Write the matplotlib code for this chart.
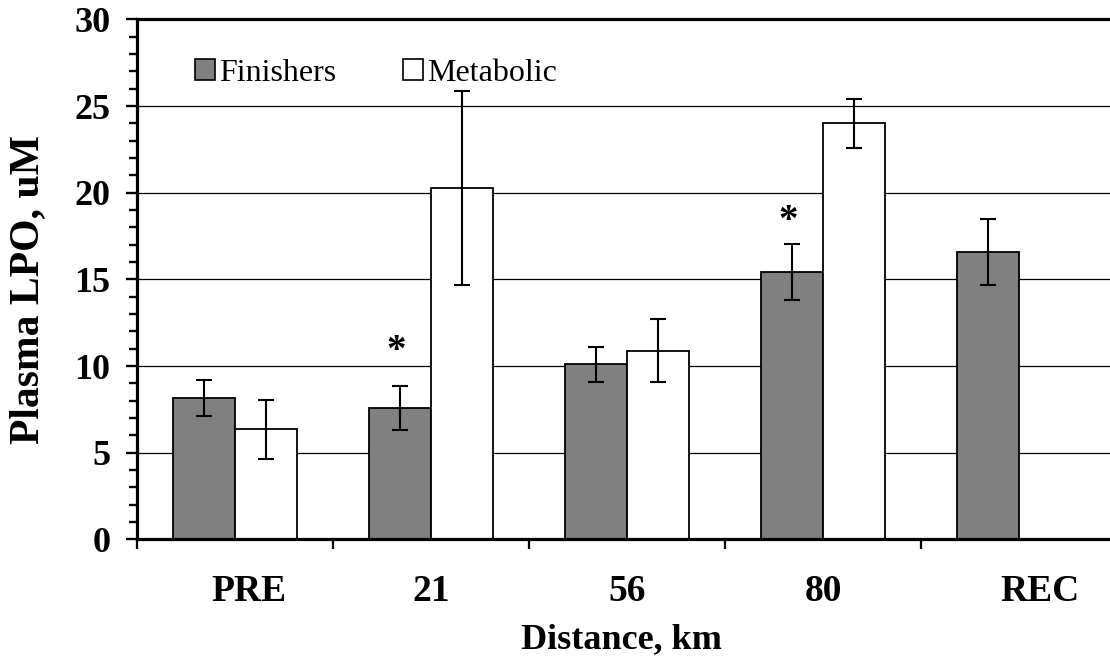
import numpy as np
import matplotlib
matplotlib.use('Agg')
import matplotlib.pyplot as plt
import matplotlib.transforms as mtransforms
from matplotlib.ticker import MultipleLocator
from matplotlib.patches import Patch

# valores (uM)
categorias = ['PRE', '21', '56', '80', 'REC']
finishers = [8.15, 7.57, 10.1, 15.44, 16.58]
finishers_err = [1.05, 1.27, 1.03, 1.63, 1.9]
metabolic = [6.35, 20.3, 10.9, 24.0, np.nan]
metabolic_err = [1.72, 5.6, 1.82, 1.4, np.nan]
signif = ['21', '80']  # pontos com asterisco
signif_y = [10.3, 17.8]

plt.rcParams['font.family'] = ['Liberation Serif', 'DejaVu Serif']

fig = plt.figure(figsize=(11.1, 6.56), dpi=100)
ax = fig.add_axes([0.1234, 0.1776, 0.8829, 0.7927])

x = np.arange(len(categorias)) + 0.5
larg = 0.316

fin = np.array(finishers)
met = np.array(metabolic)
ok = ~np.isnan(met)

ax.bar(x - larg / 2, fin, larg, color='#808080', edgecolor='black', linewidth=1.3, zorder=2)
ax.bar(x[ok] + larg / 2, met[ok], larg, color='white', edgecolor='black', linewidth=1.3, zorder=2)
ax.errorbar(x - larg / 2, fin, yerr=finishers_err, fmt='none', ecolor='black',
            elinewidth=1.5, capsize=5.5, capthick=1.5, zorder=3)
ax.errorbar(x[ok] + larg / 2, met[ok], yerr=np.array(metabolic_err)[ok], fmt='none',
            ecolor='black', elinewidth=1.5, capsize=5.5, capthick=1.5, zorder=3)

for cat, yv in zip(signif, signif_y):
    i = categorias.index(cat)
    ax.text(x[i] - larg / 2 - 0.02, yv, '*', ha='center', va='baseline',
            fontsize=28, fontweight='bold')

ax.set_xlim(0, 5)
ax.set_ylim(0, 30)
ax.set_axisbelow(True)
ax.yaxis.grid(True, color='black', linewidth=0.9)

ax.set_xticks(np.arange(0, 6))
ax.set_xticklabels([])
ax.set_xticks(x, minor=True)
ax.set_xticklabels(categorias, minor=True, fontsize=27, fontweight='bold')
ax.tick_params(axis='x', which='major', direction='out', length=7, width=1.6)
ax.tick_params(axis='x', which='minor', length=0, pad=25)

# no original PRE e REC ficam um pouco deslocados para a direita
desloc = {'PRE': 14, 'REC': 21}
for lab in ax.get_xticklabels(minor=True):
    dx = desloc.get(lab.get_text(), 0)
    if dx:
        lab.set_transform(lab.get_transform() +
                          mtransforms.ScaledTranslation(dx / 100, 0, fig.dpi_scale_trans))

ax.yaxis.set_major_locator(MultipleLocator(5))
ax.yaxis.set_minor_locator(MultipleLocator(1))
ax.tick_params(axis='y', which='major', direction='out', length=8, width=1.7,
               labelsize=26, pad=11)
ax.tick_params(axis='y', which='minor', direction='out', length=6, width=1.7)
for lab in ax.get_yticklabels():
    lab.set_fontweight('bold')

for lado in ['left', 'bottom', 'top']:
    ax.spines[lado].set_linewidth(2.3)
ax.spines['right'].set_visible(False)

ax.set_xlabel('Distance, km', fontsize=26, fontweight='bold')
ax.xaxis.set_label_coords(0.494, -0.16)
ax.set_ylabel('Plasma LPO, uM', fontsize=30, fontweight='bold')
ax.yaxis.set_label_coords(-0.092, 0.481)

handles = [Patch(facecolor='#808080', edgecolor='black', linewidth=1.2, label='Finishers'),
           Patch(facecolor='white', edgecolor='black', linewidth=1.2, label='Metabolic')]
ax.legend(handles=handles, loc='center left', bbox_to_anchor=(0.0589, 0.896),
          ncol=2, frameon=False, fontsize=23, handlelength=0.63, handleheight=0.63,
          handletextpad=0.12, columnspacing=2.1, borderpad=0, borderaxespad=0)

plt.savefig('out.png', dpi=100)
plt.close()
